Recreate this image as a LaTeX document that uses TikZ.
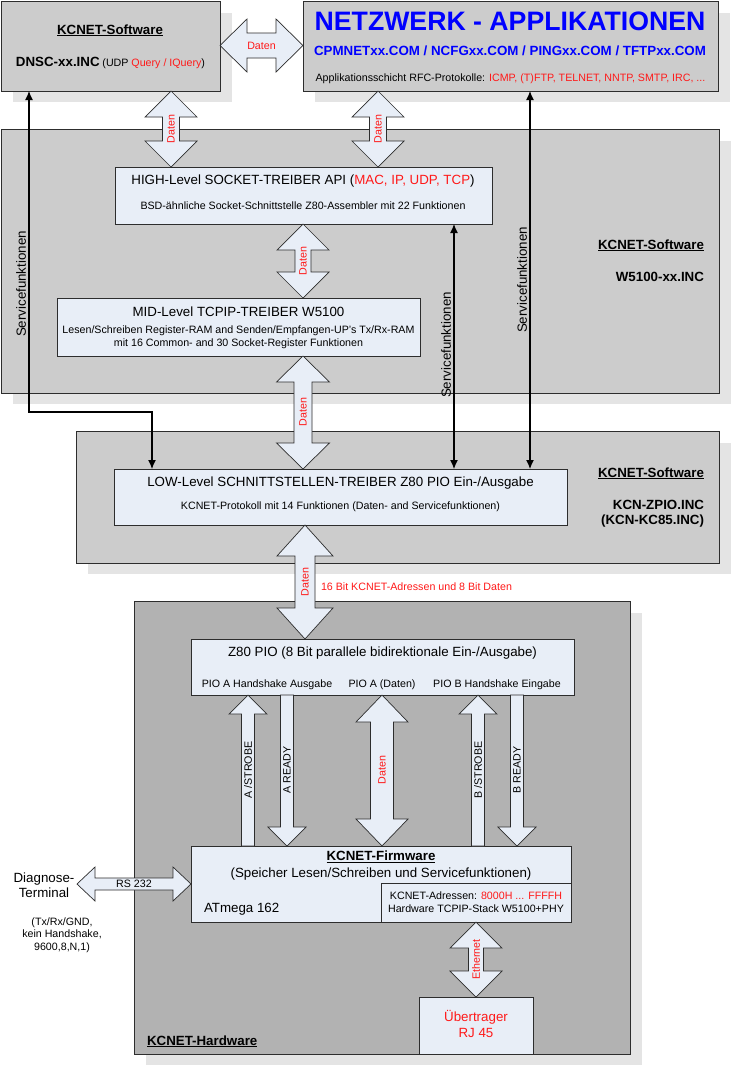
\documentclass[tikz,border=0pt]{standalone}
\usepackage{fontspec}
\setmainfont{Liberation Sans}
\usetikzlibrary{arrows.meta,calc}
\definecolor{boxfill}{RGB}{232,238,247}
\definecolor{framegray}{RGB}{204,204,204}
\definecolor{hwgray}{RGB}{178,178,178}
\definecolor{shadowgray}{RGB}{228,228,228}
\definecolor{txtred}{RGB}{255,25,25}
\definecolor{txtblue}{RGB}{0,0,255}
\definecolor{edgegray}{RGB}{45,45,45}
\newcommand\fs[2]{\fontsize{#1}{#2}\selectfont}
\newcommand\bigf{\fs{13.33}{16}}
\newcommand\smlf{\fs{10.67}{13}}
\newcommand\rd[1]{\textcolor{txtred}{#1}}
\newcommand\mkbox[6]{%
  \node[#6, anchor=north west, minimum width=#4-#2, minimum height=#5-#3] (#1) at (#2,#3) {};}
\newcommand\mkshadow[4]{\fill[shadowgray] (#1+12,#2+12) rectangle (#3+12,#4+11);}
% vertical double block arrow: x, ytop, ybot, shaft half, head half, head length
\newcommand\blkvd[6]{\draw[blk] (#1-#4,#2+#6) -- (#1-#5,#2+#6) -- (#1,#2) -- (#1+#5,#2+#6) -- (#1+#4,#2+#6) -- (#1+#4,#3-#6) -- (#1+#5,#3-#6) -- (#1,#3) -- (#1-#5,#3-#6) -- (#1-#4,#3-#6) -- cycle;}
\newcommand\blkup[6]{\draw[blk] (#1-#4,#3) -- (#1-#4,#2+#6) -- (#1-#5,#2+#6) -- (#1,#2) -- (#1+#5,#2+#6) -- (#1+#4,#2+#6) -- (#1+#4,#3) -- cycle;}
\newcommand\blkdn[6]{\draw[blk] (#1-#4,#2) -- (#1-#4,#3-#6) -- (#1-#5,#3-#6) -- (#1,#3) -- (#1+#5,#3-#6) -- (#1+#4,#3-#6) -- (#1+#4,#2) -- cycle;}
% horizontal double block arrow: y, xleft, xright, shaft half, head half, head length
\newcommand\blkhd[6]{\draw[blk] (#2+#6,#1-#4) -- (#2+#6,#1-#5) -- (#2,#1) -- (#2+#6,#1+#5) -- (#2+#6,#1+#4) -- (#3-#6,#1+#4) -- (#3-#6,#1+#5) -- (#3,#1) -- (#3-#6,#1-#5) -- (#3-#6,#1-#4) -- cycle;}
\begin{document}
\begin{tikzpicture}[x=1pt,y=-1pt,
  frm/.style={draw=edgegray, line width=0.9pt, inner sep=0pt, outer sep=0pt},
  bx/.style={frm, fill=boxfill},
  blk/.style={draw=edgegray, line width=0.7pt, fill=boxfill, line join=miter},
  svc/.style={line width=1.2pt, black, {Latex[length=9pt,width=8pt]}-{Latex[length=9pt,width=8pt]}},
  tx/.style={inner sep=0pt, outer sep=0pt, text=black},
  vlab/.style={tx, rotate=90, font=\smlf},
  vred/.style={vlab, text=txtred}]
\useasboundingbox (0,0) rectangle (731,1066);
\fill[white] (0,0) rectangle (731,1066);
% shadows
\mkshadow{1}{1}{220}{91}
\mkshadow{303}{1}{718}{91}
\mkshadow{1}{129}{719}{393}
\mkshadow{76}{431}{719}{563}
\mkshadow{134}{601}{630}{1054}
% frames
\mkbox{dnsc}{1}{1}{220}{91}{frm, fill=framegray}
\mkbox{netz}{303}{1}{718}{91}{frm, fill=framegray}
\mkbox{wframe}{1}{129}{719}{393}{frm, fill=framegray}
\mkbox{lframe}{76}{431}{719}{563}{frm, fill=framegray}
\mkbox{hwframe}{134}{601}{630}{1054}{frm, fill=hwgray}
% boxes
\mkbox{high}{115}{167}{492}{224}{bx}
\mkbox{mid}{57}{298}{420}{356}{bx}
\mkbox{low}{114}{469}{567}{525}{bx}
\mkbox{pio}{191}{639}{574}{695}{bx}
\mkbox{fw}{191}{846}{571}{922}{bx}
\mkbox{fwin}{381}{883}{571}{922}{bx}
\mkbox{ueb}{419}{997}{533}{1054}{bx}
% block arrows
\blkvd{171}{91}{167}{8.5}{26}{26}
\blkvd{378}{91}{167}{8.5}{26}{26}
\blkhd{45.5}{220}{303}{12.5}{26.5}{27}
\blkvd{303}{224}{298}{8}{26}{26}
\blkvd{303}{356}{469}{9}{26.5}{26}
\blkvd{305}{525}{639}{10}{28}{31}
\blkup{248}{695}{846}{6.5}{19}{19}
\blkdn{287}{695}{846}{6.5}{19}{19}
\blkvd{382}{695}{846}{11.5}{26}{27}
\blkup{478}{695}{846}{6.5}{19}{19}
\blkdn{517}{695}{846}{6.5}{19}{19}
\blkvd{476}{922}{997}{7.5}{26}{26}
\blkhd{884}{77}{191}{6}{17}{18}
% block arrow labels
\node[vred] (d1) at (171,129) {Daten};
\node[vred] (d2) at (378,129) {Daten};
\node[tx, font=\smlf, text=txtred] (d3) at (261.5,45.5) {Daten};
\node[vred] (d4) at (303,261) {Daten};
\node[vred] (d5) at (303,412) {Daten};
\node[vred] (d6) at (305,582) {Daten};
\node[vred] (d7) at (382,770) {Daten};
\node[vred] (eth) at (476,959.5) {Ethernet};
\node[vlab] (as) at (248,770) {A /STROBE};
\node[vlab] (ar) at (287,770) {A READY};
\node[vlab] (bs) at (478,770) {B /STROBE};
\node[vlab] (br) at (517,770) {B READY};
\node[tx, font=\smlf, anchor=base] (rs) at (134,887) {RS 232};
% service lines
\coordinate (lc1) at (29,412);
\coordinate (lc2) at (152,412);
\draw[svc] (dnsc.south -| lc1) -- (lc1) -- (lc2) -- (lc2 |- low.north);
\coordinate (mc) at (454,300);
\draw[svc] (high.south -| mc) -- (mc |- low.north);
\coordinate (rc) at (530,300);
\draw[svc] (netz.south -| rc) -- (rc |- low.north);
\node[tx, rotate=90, font=\bigf] (s1) at (21,284) {Servicefunktionen};
\node[tx, rotate=90, font=\bigf] (s2) at (446,345) {Servicefunktionen};
\node[tx, rotate=90, font=\bigf] (s3) at (522,280) {Servicefunktionen};
% texts top-left
\node[tx, anchor=base, font=\bigf\bfseries] (t1) at (110,34) {\underline{KCNET-Software}};
\node[tx, anchor=base] (t2) at (110.5,66) {{\bigf\bfseries DNSC-xx.INC} {\smlf(UDP \rd{Query / IQuery})}};
% top-right
\node[tx, anchor=base, font=\fs{26.67}{32}\bfseries, text=txtblue] (t3) at (510,30.5) {NETZWERK - APPLIKATIONEN};
\node[tx, anchor=base, font=\bigf\bfseries, text=txtblue] (t4) at (510,55) {CPMNETxx.COM / NCFGxx.COM / PINGxx.COM / TFTPxx.COM};
\node[tx, anchor=base, font=\smlf] (t5) at (510.5,81) {Applikationsschicht RFC-Protokolle: \rd{ICMP, (T)FTP, TELNET, NNTP, SMTP, IRC, ...}};
% w5100 frame
\node[tx, anchor=base east, font=\bigf\bfseries] (t6) at (704,249) {\underline{KCNET-Software}};
\node[tx, anchor=base east, font=\bigf\bfseries] (t7) at (704,281) {W5100-xx.INC};
\node[tx, anchor=base, font=\bigf] (t8) at (303,184) {HIGH-Level SOCKET-TREIBER API (\rd{MAC, IP, UDP, TCP})};
\node[tx, anchor=base, font=\smlf] (t9) at (303,209) {BSD-ähnliche Socket-Schnittstelle Z80-Assembler mit 22 Funktionen};
\node[tx, anchor=base, font=\bigf] (t10) at (238.5,316.5) {MID-Level TCPIP-TREIBER W5100};
\node[tx, anchor=base, font=\smlf] (t11) at (238.5,333) {Lesen/Schreiben Register-RAM and Senden/Empfangen-UP’s Tx/Rx-RAM};
\node[tx, anchor=base, font=\smlf] (t12) at (238.5,346) {mit 16 Common- and 30 Socket-Register Funktionen};
% low frame
\node[tx, anchor=base, font=\bigf] (t13) at (340.5,486) {LOW-Level SCHNITTSTELLEN-TREIBER Z80 PIO Ein-/Ausgabe};
\node[tx, anchor=base, font=\smlf] (t14) at (340.5,509.5) {KCNET-Protokoll mit 14 Funktionen (Daten- and Servicefunktionen)};
\node[tx, anchor=base east, font=\bigf\bfseries] (t15) at (704,477) {\underline{KCNET-Software}};
\node[tx, anchor=base east, font=\bigf\bfseries] (t16) at (704,509) {KCN-ZPIO.INC};
\node[tx, anchor=base east, font=\bigf\bfseries] (t17) at (704,524.5) {(KCN-KC85.INC)};
\node[tx, anchor=base west, font=\smlf, text=txtred] (t18) at (321,590) {16 Bit KCNET-Adressen und 8 Bit Daten};
% pio
\node[tx, anchor=base, font=\bigf] (t19) at (382.5,656.5) {Z80 PIO (8 Bit parallele bidirektionale Ein-/Ausgabe)};
\node[tx, anchor=base, font=\smlf] (t20) at (267,687) {PIO A Handshake Ausgabe};
\node[tx, anchor=base, font=\smlf] (t21) at (382,687) {PIO A (Daten)};
\node[tx, anchor=base, font=\smlf] (t22) at (497,687) {PIO B Handshake Eingabe};
% firmware
\node[tx, anchor=base, font=\bigf\bfseries] (t23) at (381,860.5) {\underline{KCNET-Firmware}};
\node[tx, anchor=base, font=\bigf] (t24) at (381,877.5) {(Speicher Lesen/Schreiben und Servicefunktionen)};
\node[tx, anchor=base west, font=\bigf] (t25) at (204,912.5) {ATmega 162};
\node[tx, anchor=base, font=\smlf] (t26) at (476,899.5) {KCNET-Adressen: \rd{8000H ... FFFFH}};
\node[tx, anchor=base, font=\smlf] (t27) at (476,912.5) {Hardware TCPIP-Stack W5100+PHY};
% diagnose
\node[tx, anchor=base, font=\bigf] (t28) at (44,882) {Diagnose-};
\node[tx, anchor=base, font=\bigf] (t29) at (44,897.5) {Terminal};
\node[tx, anchor=base, font=\smlf] (t30) at (62,925) {(Tx/Rx/GND,};
\node[tx, anchor=base, font=\smlf] (t31) at (62,937.5) {kein Handshake,};
\node[tx, anchor=base, font=\smlf] (t32) at (62,950.5) {9600,8,N,1)};
% uebertrager
\node[tx, anchor=base, font=\bigf, text=txtred] (t33) at (476,1021.5) {Übertrager};
\node[tx, anchor=base, font=\bigf, text=txtred] (t34) at (476,1037) {RJ 45};
\node[tx, anchor=base west, font=\bigf\bfseries] (t35) at (147,1045) {\underline{KCNET-Hardware}};
\end{tikzpicture}
\end{document}
